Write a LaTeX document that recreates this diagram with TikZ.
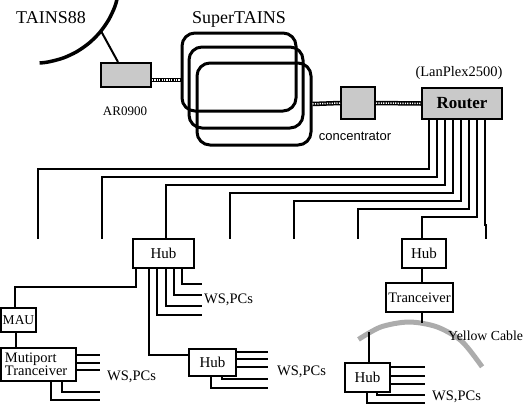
\documentclass[tikz,border=0pt]{standalone}
\usepackage{fontspec}
\setmainfont{Liberation Serif}
\newfontfamily\sansf{Liberation Sans}
\begin{document}
\begin{tikzpicture}[x=1pt,y=-1pt,
  box/.style={draw, line width=2pt, fill=white, inner sep=0pt, font=\fontsize{15}{17}\selectfont},
  stip/.style={draw, line width=2pt, fill=gray!42, inner sep=0pt},
  ring/.style={draw, line width=3pt, rounded corners=13pt, inner sep=0pt},
  wire/.style={line width=2pt},
  dcable/.style={line width=4.5pt, postaction={draw=white, line width=1.5pt, dash pattern=on 1.2pt off 1.2pt}},
  ycable/.style={line width=5pt, draw=gray!65},
  lbl/.style={inner sep=0pt, anchor=base, font=\fontsize{14.5}{16}\selectfont},
  big/.style={inner sep=0pt, anchor=base, font=\fontsize{18}{20}\selectfont}]
\useasboundingbox (0,0) rectangle (527,405);
\begin{scope}
\clip (0,0) rectangle (527,405);
% TAINS88 network arc
\draw[line width=3.5pt] plot[smooth] coordinates {(118.9,-8.4) (115.0,6.2) (108.6,19.9) (99.9,32.3) (89.3,42.9) (76.9,51.6) (63.2,58.0) (48.6,61.9) (39.6,63.0)};
\coordinate (t88) at (101,31);
\node[big] (lt88) at (51,23) {TAINS88};
\node[big] (lsuper) at (239,23) {SuperTAINS};

% SuperTAINS rings
\node[ring, minimum width=114pt, minimum height=78pt] (st1) at (239,72) {};
\node[ring, minimum width=114pt, minimum height=81pt] (st2) at (246,87.5) {};
\node[ring, minimum width=114pt, minimum height=82pt] (st3) at (254,104) {};

% devices
\node[stip, minimum width=50pt, minimum height=24pt] (ar) at (126,75) {};
\node[inner sep=0pt, anchor=base, font=\fontsize{13}{15}\selectfont] (lar) at (125,115) {AR0900};
\node[stip, minimum width=34pt, minimum height=32pt] (conc) at (358,103) {};
\node[inner sep=0pt, anchor=base, font=\sansf\fontsize{13}{15}\selectfont] (lconc) at (355,140) {concentrator};
\node[stip, minimum width=80pt, minimum height=31pt, font=\bfseries\fontsize{17}{19}\selectfont] (router) at (462,103.5) {Router};
\node[lbl] (lplex) at (459,76) {(LanPlex2500)};

\draw[wire] (t88) -- ([xshift=-8pt]ar.north);
\draw[dcable] ([yshift=-5pt]ar.east) -- ([yshift=-5pt]ar.east -| st1.west);
\draw[dcable] (st3.east) -- (conc.west);
\draw[dcable] (conc.east) -- (router.west);

% hubs and boxes
\node[box, minimum width=61pt, minimum height=29pt] (hub1) at (163.5,253.5) {Hub};
\node[box, minimum width=44pt, minimum height=29pt] (hub3) at (424,253.5) {Hub};
\node[box, minimum width=67pt, minimum height=29pt, font=\fontsize{14.5}{16}\selectfont] (tranc) at (419.5,297.5) {Tranceiver};
\node[box, minimum width=45pt, minimum height=29pt] (hub4) at (367.5,377.5) {Hub};
\node[box, minimum width=47pt, minimum height=27pt] (hub2) at (212.5,362.5) {Hub};
\node[box, minimum width=35pt, minimum height=24pt, font=\fontsize{13.5}{15}\selectfont] (mau) at (18.5,320) {MAU};
\node[box, minimum width=75pt, minimum height=33pt, align=left, text width=67pt, font=\fontsize{14.5}{13.5}\selectfont] (multi) at (38.5,364.5) {Mutiport\\Tranceiver};

% router backbone lines
\coordinate (e0) at (38,239);
\coordinate (e1) at (102,239);
\coordinate (e2) at ([xshift=2.5pt]hub1.north);
\coordinate (e3) at (230,239);
\coordinate (e4) at (294,239);
\coordinate (e5) at (358,239);
\coordinate (e6) at ([xshift=-2pt]hub3.north);
\coordinate (e7) at (486,239);
\foreach \i in {0,...,7}{
  \draw[wire] ([xshift={8+8*\i}]router.south west) -- ++(0,{49+8*\i}) -| (e\i);
}

% hub1 outputs
\coordinate (m1) at (15,287);
\draw[wire] ([xshift=4pt]hub1.south west) |- (m1) -- (m1 |- mau.north);
\draw[wire] ([xshift=17pt]hub1.south west) |- ([yshift=7.5pt]hub2.west);
\coordinate (ws1a) at (202,284);
\coordinate (ws1b) at (202,295);
\coordinate (ws1c) at (202,306);
\coordinate (ws1d) at (202,315);
\draw[wire] ([xshift=50pt]hub1.south west) |- (ws1a);
\draw[wire] ([xshift=42pt]hub1.south west) |- (ws1b);
\draw[wire] ([xshift=34pt]hub1.south west) |- (ws1c);
\draw[wire] ([xshift=25pt]hub1.south west) |- (ws1d);
\node[lbl, anchor=base west] (lws1) at (204,303) {WS,PCs};

% MAU and multiport
\draw[wire] ([xshift=-2.5pt]mau.south) -- ([xshift=-22.5pt]multi.north);
\coordinate (ws2a) at (100,355);
\coordinate (ws2b) at (100,363);
\coordinate (ws2c) at (100,370);
\coordinate (ws2d) at (100,392);
\coordinate (ws2e) at (100,400);
\draw[wire] (multi.east |- ws2a) -- (ws2a);
\draw[wire] (multi.east |- ws2b) -- (ws2b);
\draw[wire] (multi.east |- ws2c) -- (ws2c);
\draw[wire] ([xshift=62pt]multi.south west) |- (ws2d);
\draw[wire] ([xshift=51pt]multi.south west) |- (ws2e);
\node[lbl, anchor=base west] (lws2) at (107,380) {WS,PCs};

% hub2 outputs
\coordinate (ws3a) at (268,352);
\coordinate (ws3b) at (268,359);
\coordinate (ws3c) at (268,367);
\coordinate (ws3d) at (268,379);
\coordinate (ws3e) at (268,388);
\draw[wire] (hub2.east |- ws3a) -- (ws3a);
\draw[wire] (hub2.east |- ws3b) -- (ws3b);
\draw[wire] (hub2.east |- ws3c) -- (ws3c);
\draw[wire] ([xshift=34pt]hub2.south west) |- (ws3d);
\draw[wire] ([xshift=23pt]hub2.south west) |- (ws3e);
\node[lbl, anchor=base west] (lws3) at (277,375) {WS,PCs};

% yellow cable
\draw[ycable] plot[smooth] coordinates {(358.5,339.4) (381.0,326.9) (409,322) (437.0,326.9) (461.7,341.2) (482.1,366.8)};
\coordinate (cabB) at (422,323);
\coordinate (cabH) at (369,332);
\node[inner sep=0pt, anchor=base west, font=\fontsize{13.8}{15}\selectfont] (lyc) at (448,340) {Yellow Cable};
\draw[wire] ([xshift=-2pt]hub3.south) -- ([xshift=2.5pt]tranc.north);
\draw[wire] ([xshift=2.5pt]tranc.south) -- (cabB);
\draw[wire] (cabH) -- (cabH |- hub4.north);

% hub4 outputs
\coordinate (ws4a) at (425,367);
\coordinate (ws4b) at (425,376);
\coordinate (ws4c) at (425,384);
\coordinate (ws4d) at (425,395);
\coordinate (ws4e) at (425,403);
\draw[wire] (hub4.east |- ws4a) -- (ws4a);
\draw[wire] (hub4.east |- ws4b) -- (ws4b);
\draw[wire] (hub4.east |- ws4c) -- (ws4c);
\draw[wire] ([xshift=33pt]hub4.south west) |- (ws4d);
\draw[wire] ([xshift=23pt]hub4.south west) |- (ws4e);
\node[lbl, anchor=base west] (lws4) at (432,400) {WS,PCs};
\end{scope}
\end{tikzpicture}
\end{document}
